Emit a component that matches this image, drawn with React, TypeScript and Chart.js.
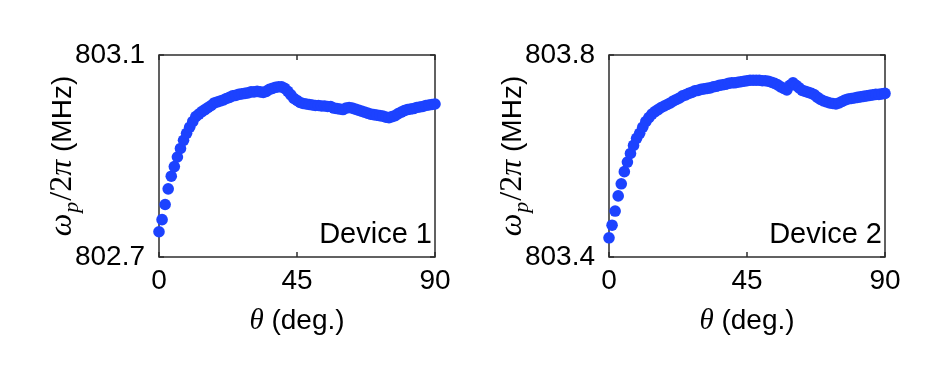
import React, { useEffect, useRef } from 'react';
import { Chart, registerables } from 'chart.js';

Chart.register(...registerables);

// ---------------- data ----------------
const THETA_DEG = [
  0, 1, 2, 3, 4, 5, 6, 7, 8, 9, 10, 11, 12, 13, 14, 15, 16, 17, 18, 19, 20,
  21, 22, 23, 24, 25, 26, 27, 28, 29, 30, 31, 32, 33, 34, 35, 36, 37, 38, 39, 40,
  41, 42, 43, 44, 45, 46, 47, 48, 49, 50, 51, 52, 53, 54, 55, 56, 57, 58, 59, 60,
  61, 62, 63, 64, 65, 66, 67, 68, 69, 70, 71, 72, 73, 74, 75, 76, 77, 78, 79, 80,
  81, 82, 83, 84, 85, 86, 87, 88, 89, 90,
];

const DEVICE1_FREQ_MHZ = [
  802.750, 802.774, 802.804, 802.835, 802.860, 802.879, 802.898, 802.915, 802.931, 802.945,
  802.957, 802.968, 802.978, 802.983, 802.988, 802.992, 802.996, 803.000, 803.005, 803.007,
  803.009, 803.011, 803.014, 803.016, 803.019, 803.020, 803.022, 803.023, 803.024, 803.025,
  803.027, 803.027, 803.028, 803.027, 803.026, 803.028, 803.032, 803.034, 803.036, 803.037,
  803.037, 803.034, 803.028, 803.021, 803.014, 803.010, 803.006, 803.004, 803.003, 803.002,
  803.001, 803.000, 803.000, 802.999, 802.999, 802.998, 802.998, 802.995, 802.994, 802.993,
  802.992, 802.995, 802.996, 802.995, 802.993, 802.991, 802.989, 802.987, 802.985, 802.983,
  802.982, 802.981, 802.980, 802.979, 802.977, 802.976, 802.978, 802.980, 802.984, 802.987,
  802.990, 802.992, 802.993, 802.994, 802.996, 802.997, 802.998, 803.000, 803.001, 803.002,
  803.003,
];

const DEVICE2_FREQ_MHZ = [
  803.438, 803.463, 803.491, 803.521, 803.545, 803.569, 803.588, 803.605, 803.621, 803.635,
  803.645, 803.657, 803.668, 803.676, 803.683, 803.688, 803.692, 803.696, 803.699, 803.702,
  803.705, 803.709, 803.712, 803.715, 803.719, 803.721, 803.724, 803.726, 803.729, 803.730,
  803.732, 803.733, 803.734, 803.735, 803.737, 803.738, 803.740, 803.741, 803.742, 803.744,
  803.745, 803.745, 803.746, 803.747, 803.748, 803.749, 803.750, 803.750, 803.750, 803.750,
  803.749, 803.749, 803.748, 803.746, 803.744, 803.741, 803.737, 803.734, 803.731, 803.740,
  803.745, 803.740, 803.735, 803.730, 803.728, 803.726, 803.724, 803.721, 803.716, 803.712,
  803.709, 803.707, 803.705, 803.704, 803.703, 803.705, 803.708, 803.711, 803.713, 803.714,
  803.715, 803.716, 803.717, 803.718, 803.719, 803.720, 803.721, 803.722, 803.722, 803.723,
  803.724,
];

const X_TICKS = [0, 45, 90];
const DEVICE1_Y_TICKS = [802.7, 803.1];
const DEVICE2_Y_TICKS = [803.4, 803.8];
const PANEL_LABELS = ['Device 1', 'Device 2'];

// ---------------- style ----------------
const MARKER = 'rgb(28,66,255)';
const FRAME = '#2e2e2e';
const SANS = '"Liberation Sans", Arial, Helvetica, sans-serif';
const SERIF = '"Liberation Serif", "DejaVu Serif", serif';

function drawSegments(ctx, segs, startX, baseY) {
  let x = startX;
  for (const s of segs) {
    ctx.font = s.font;
    ctx.fillText(s.t, x, baseY + (s.dy || 0));
    x += ctx.measureText(s.t).width + (s.gap || 0);
  }
}
function segWidth(ctx, segs) {
  let w = 0;
  for (const s of segs) {
    ctx.font = s.font;
    w += ctx.measureText(s.t).width + (s.gap || 0);
  }
  return w;
}

function Panel({ values, yTicks, label, left }) {
  const ref = useRef(null);
  useEffect(() => {
    const deco = {
      id: 'deco',
      beforeDatasetsDraw(chart) {
        const { ctx, chartArea: a, scales } = chart;
        ctx.save();
        ctx.strokeStyle = FRAME;
        ctx.lineWidth = 1.5;
        ctx.strokeRect(a.left, a.top, a.right - a.left, a.bottom - a.top);
        ctx.beginPath();
        for (const v of X_TICKS) {
          const px = scales.x.getPixelForValue(v);
          ctx.moveTo(px, a.bottom);
          ctx.lineTo(px, a.bottom - 5);
          ctx.moveTo(px, a.top);
          ctx.lineTo(px, a.top + 5);
        }
        for (const v of yTicks) {
          const py = scales.y.getPixelForValue(v);
          ctx.moveTo(a.left, py);
          ctx.lineTo(a.left + 5, py);
          ctx.moveTo(a.right, py);
          ctx.lineTo(a.right - 5, py);
        }
        ctx.stroke();
        ctx.restore();
      },
      afterDraw(chart) {
        const { ctx, chartArea: a } = chart;
        ctx.save();
        ctx.fillStyle = '#000';
        ctx.textBaseline = 'alphabetic';
        // panel label
        ctx.font = `29px ${SANS}`;
        ctx.textAlign = 'right';
        ctx.fillText(label, a.right - 3, a.bottom - 14);
        ctx.textAlign = 'left';
        // x title
        const xt = [
          { t: 'θ', font: `italic 29px ${SERIF}` },
          { t: ' (deg.)', font: `28px ${SANS}` },
        ];
        const xw = segWidth(ctx, xt);
        drawSegments(ctx, xt, (a.left + a.right) / 2 - xw / 2, 329);
        // y title (rotated)
        const yt = [
          { t: 'ω', font: `italic 32px ${SERIF}`, gap: 1 },
          { t: 'p', font: `italic 22px ${SERIF}`, dy: 7, gap: 1 },
          { t: '/', font: `32px ${SERIF}` },
          { t: '2', font: `32px ${SERIF}` },
          { t: 'π', font: `italic 32px ${SERIF}` },
          { t: ' (MHz)', font: `28px ${SANS}` },
        ];
        const yw = segWidth(ctx, yt);
        ctx.translate(71, (a.top + a.bottom) / 2);
        ctx.rotate(-Math.PI / 2);
        drawSegments(ctx, yt, -yw / 2, 0);
        ctx.restore();
      },
    };

    const points = THETA_DEG.map((t, i) => ({ x: t, y: values[i] }));
    const chart = new Chart(ref.current, {
      type: 'scatter',
      data: {
        datasets: [
          {
            data: points,
            backgroundColor: MARKER,
            borderColor: MARKER,
            pointRadius: 5.8,
            pointBorderWidth: 0,
            pointHoverRadius: 5.8,
            clip: false,
          },
        ],
      },
      options: {
        responsive: false,
        animation: false,
        events: [],
        layout: { padding: { left: 0, right: 33, top: 55, bottom: 0 } },
        plugins: {
          legend: { display: false },
          tooltip: { enabled: false },
          title: { display: false },
        },
        scales: {
          x: {
            type: 'linear',
            min: X_TICKS[0],
            max: X_TICKS[X_TICKS.length - 1],
            grid: { display: false, drawTicks: false },
            border: { display: false },
            afterBuildTicks: (s) => {
              s.ticks = X_TICKS.map((v) => ({ value: v }));
            },
            afterFit: (s) => {
              s.height = 116;
            },
            ticks: {
              font: { family: SANS, size: 28 },
              color: '#000',
              padding: 7,
              maxRotation: 0,
              autoSkip: false,
              callback: (v) => String(v),
            },
          },
          y: {
            type: 'linear',
            min: yTicks[0],
            max: yTicks[yTicks.length - 1],
            grid: { display: false, drawTicks: false },
            border: { display: false },
            afterBuildTicks: (s) => {
              s.ticks = yTicks.map((v) => ({ value: v }));
            },
            afterFit: (s) => {
              s.width = 159;
            },
            ticks: {
              font: { family: SANS, size: 28 },
              color: '#000',
              padding: 14,
              autoSkip: false,
              callback: (v) => Number(v).toFixed(1),
            },
          },
        },
      },
      plugins: [deco],
    });
    return () => chart.destroy();
  }, []);

  return (
    <canvas
      ref={ref}
      width={468}
      height={373}
      style={{ position: 'absolute', left, top: 0, width: 468, height: 373, display: 'block' }}
    />
  );
}

export default function App() {
  return (
    <div
      style={{
        position: 'absolute',
        left: 0,
        top: 0,
        width: 936,
        height: 373,
        background: '#fff',
        overflow: 'hidden',
      }}
    >
      <Panel values={DEVICE1_FREQ_MHZ} yTicks={DEVICE1_Y_TICKS} label={PANEL_LABELS[0]} left={0} />
      <Panel values={DEVICE2_FREQ_MHZ} yTicks={DEVICE2_Y_TICKS} label={PANEL_LABELS[1]} left={450} />
    </div>
  );
}
